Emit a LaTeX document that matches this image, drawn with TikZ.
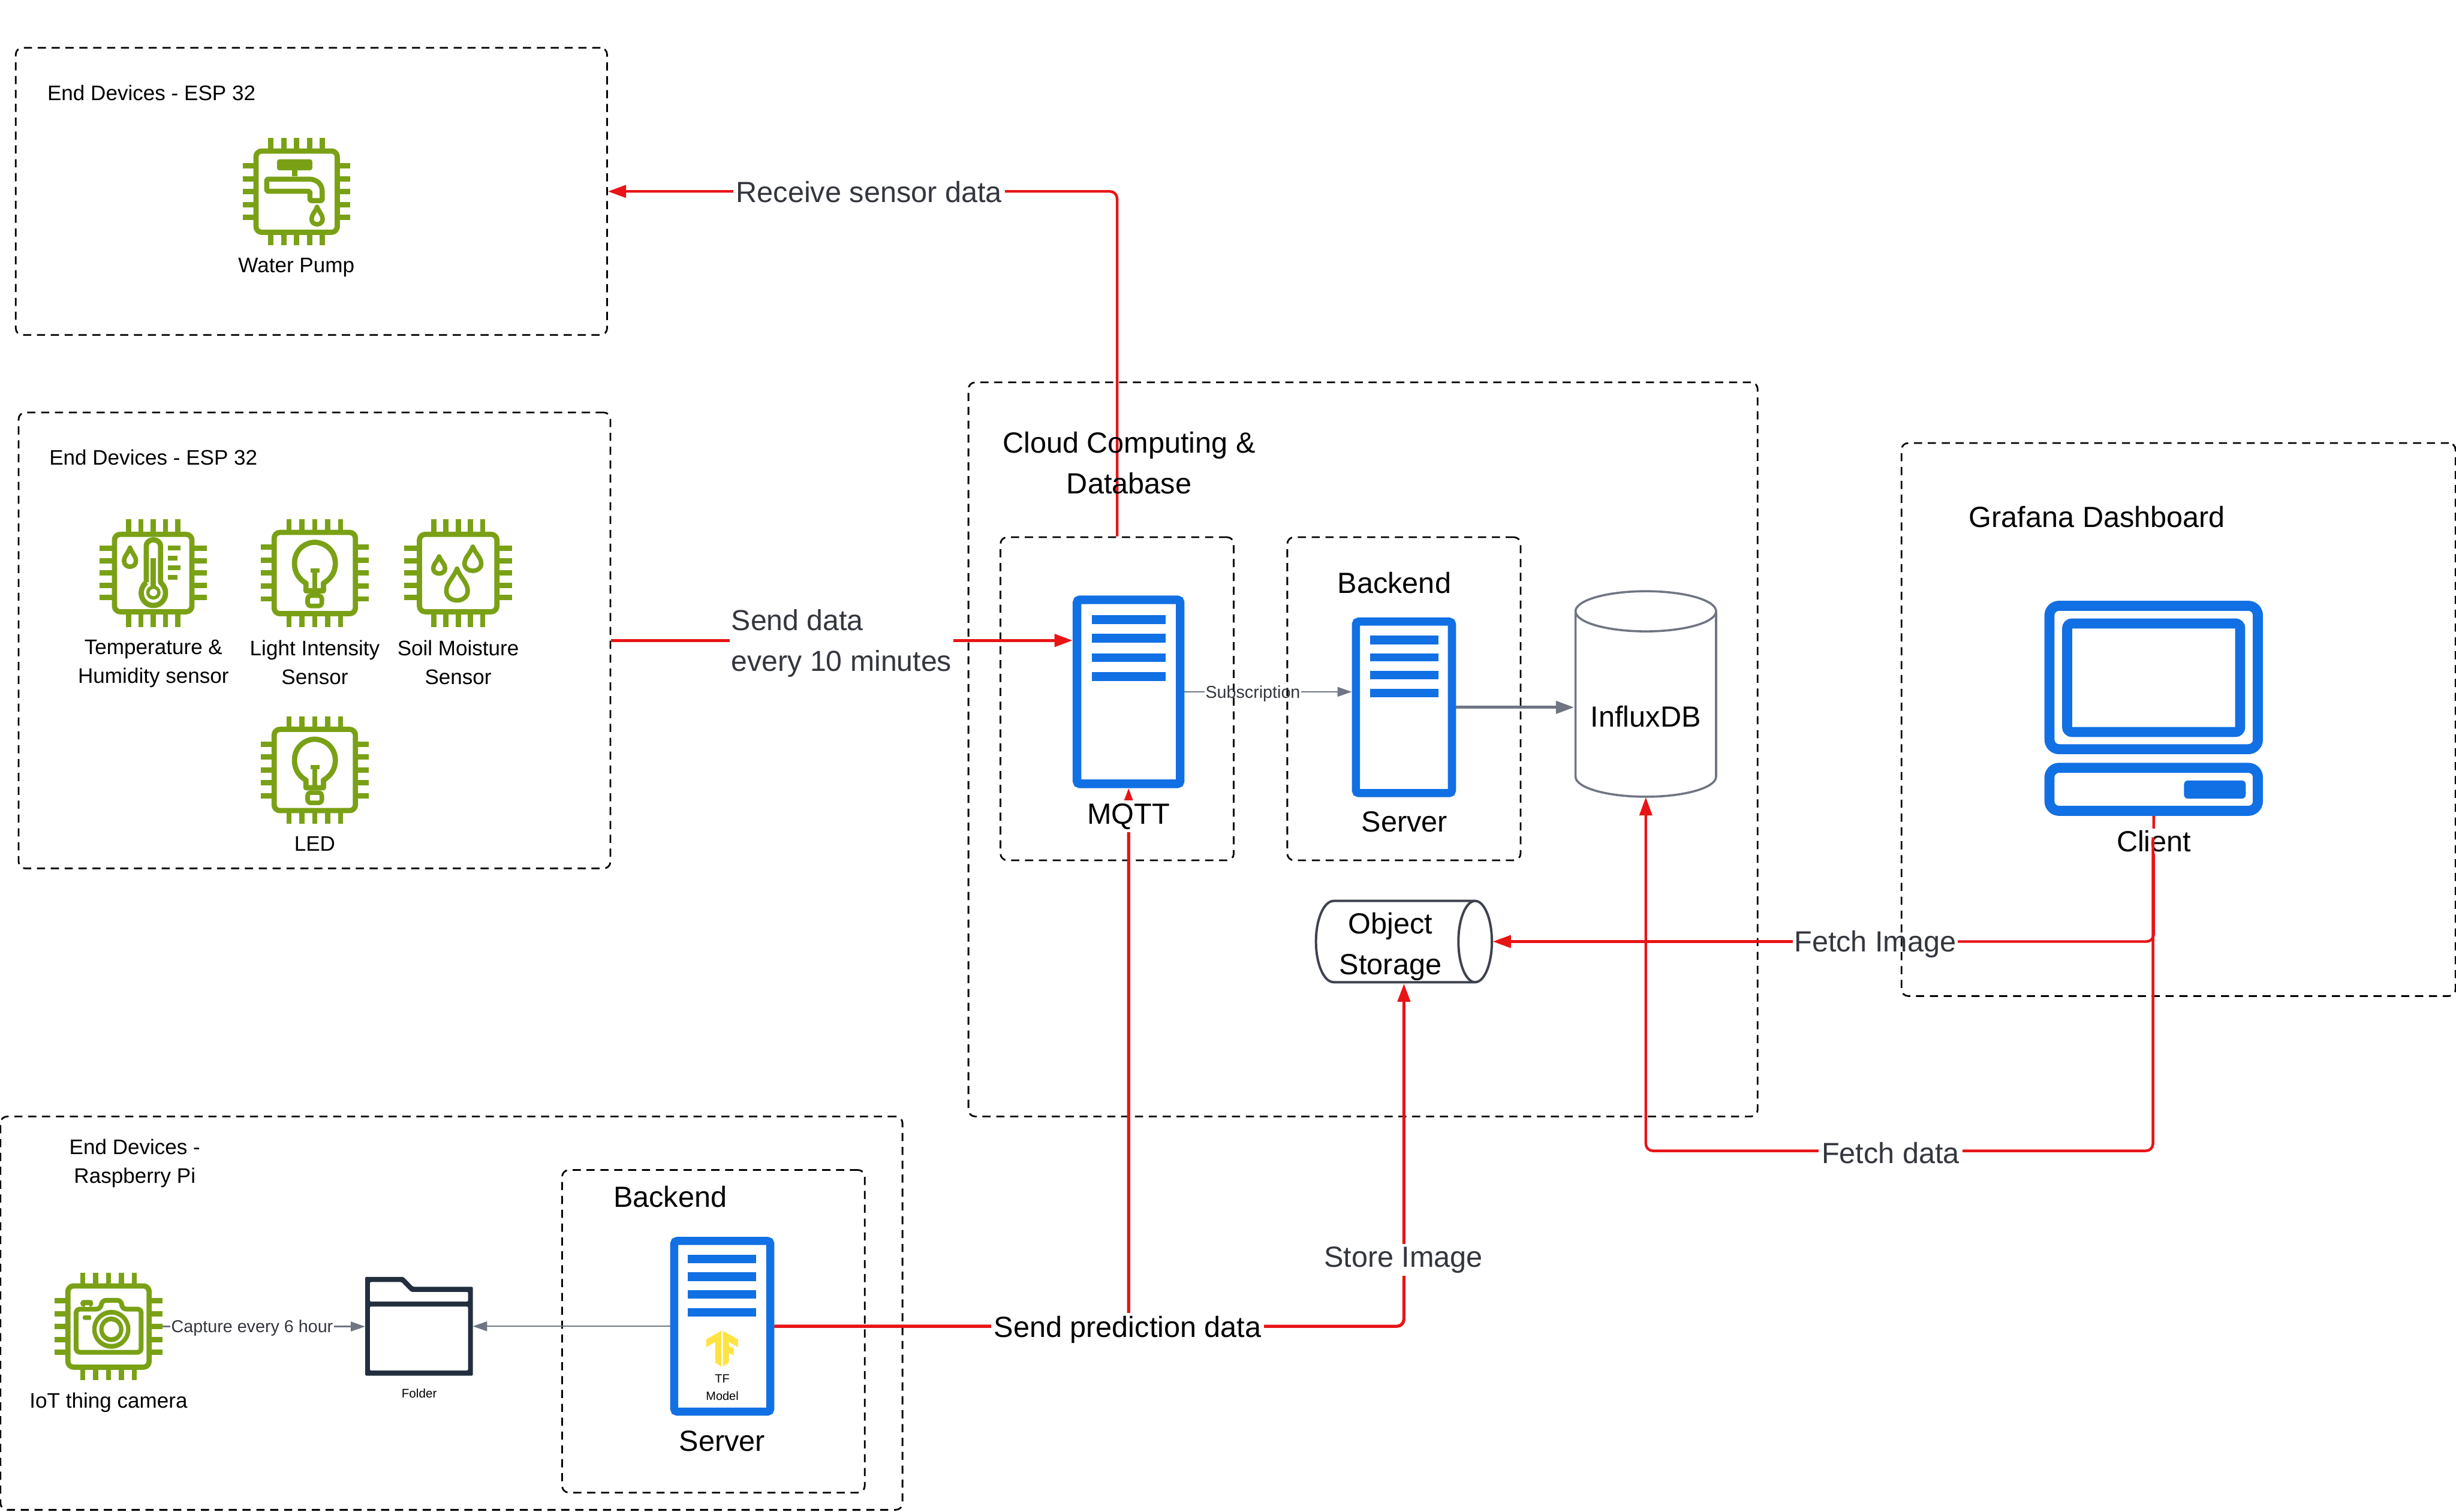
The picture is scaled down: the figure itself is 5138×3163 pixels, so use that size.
\documentclass[tikz,border=0pt]{standalone}
\usepackage{fontspec}
\setmainfont{Liberation Sans}
\usetikzlibrary{arrows.meta}
\pgfdeclarelayer{boxes}\pgfdeclarelayer{conn}\pgfdeclarelayer{lab}\pgfdeclarelayer{over}
\pgfsetlayers{boxes,conn,lab,main,over}
\definecolor{chipg}{HTML}{7AA116}
\definecolor{srvb}{HTML}{1170E4}
\definecolor{redl}{HTML}{E81416}
\definecolor{gryl}{HTML}{6F7582}
\definecolor{txtg}{HTML}{33363D}
\definecolor{fold}{HTML}{232F3E}
\definecolor{cyld}{HTML}{3F4350}
\definecolor{tfy}{HTML}{FFE343}
\tikzset{
 dbox/.style={draw=black,line width=3.5pt,dash pattern=on 17pt off 12pt,rounded corners=14pt,inner sep=0pt},
 srv/.style={draw=srvb,line width=18pt,rounded corners=6pt,inner sep=0pt},
 ghost/.style={inner sep=0pt,outer sep=0pt},
 small/.style={inner sep=0pt,align=center,font=\fontsize{44}{60}\selectfont,text=black},
 tiny/.style={inner sep=0pt,align=center,font=\fontsize{26}{36}\selectfont,text=black},
 big/.style={inner sep=0pt,align=center,font=\fontsize{61}{85}\selectfont,text=black},
 redarrow/.style={draw=redl,line width=6.5pt,rounded corners=15pt,-{Triangle[length=38pt,width=26pt]}},
 redthin/.style={redarrow,line width=5.5pt},
 redline/.style={draw=redl,line width=5.5pt,rounded corners=15pt},
 grayarrow/.style={draw=gryl,line width=3pt,-{Triangle[length=30pt,width=20pt]}},
 grayline/.style={draw=gryl,line width=3pt},
 grayheavy/.style={draw=gryl,line width=6pt,-{Triangle[length=38pt,width=26pt]}},
 redlab/.style={big,fill=white,inner sep=6pt,text=txtg},
 graylab/.style={inner sep=2pt,font=\fontsize{36}{44}\selectfont,text=txtg},
 chipline/.style={draw=chipg,line width=11pt,line join=round},
 bar/.style={fill=srvb,draw=none},
}
\newcommand{\dbx}[5]{\node[dbox,minimum width={(#4-#2)*1pt},minimum height={(#5-#3)*1pt}] (#1) at ({(#2+#4)/2},{(#3+#5)/2}) {};}
\newcommand{\chip}[4]{%
 \begin{scope}[shift={(#1,#2)}]
  \draw[chipline,rounded corners=12pt] (-#3,-#3) rectangle (#3,#3);
  \foreach \k in {-2,-1,0,1,2}{
   \draw[chipg,line width=11pt] (\k*#4,-#3) -- (\k*#4,-112.5);
   \draw[chipg,line width=11pt] (\k*#4,#3) -- (\k*#4,112.5);
   \draw[chipg,line width=11pt] (-#3,\k*#4) -- (-112.5,\k*#4);
   \draw[chipg,line width=11pt] (#3,\k*#4) -- (112.5,\k*#4);
  }
 \end{scope}}
% drop: cx, top, bottom, half width (in the coordinates of the scope)
\newcommand{\drop}[4]{%
 \draw[chipline,line width=9.5pt] (#1,#2) .. controls ({#1+0.35*#4},{#2+0.3*(#3-#2)}) and ({#1+#4},{#2+0.45*(#3-#2)}) .. ({#1+#4},{#2+0.7*(#3-#2)})
  .. controls ({#1+#4},{#2+0.9*(#3-#2)}) and ({#1+0.5*#4},#3) .. (#1,#3)
  .. controls ({#1-0.5*#4},#3) and ({#1-#4},{#2+0.9*(#3-#2)}) .. ({#1-#4},{#2+0.7*(#3-#2)})
  .. controls ({#1-#4},{#2+0.45*(#3-#2)}) and ({#1-0.35*#4},{#2+0.3*(#3-#2)}) .. cycle;}
\newcommand{\bulb}[1]{%
 \begin{scope}[shift={(0,#1)},x=0.8292pt,y=-0.5102pt]
  \draw[chipline] (772,432) .. controls (755,415) and (743,390) .. (743,350) .. controls (743,295) and (770,264) .. (794,264) .. controls (818,264) and (846,295) .. (846,350) .. controls (846,390) and (833,415) .. (816,432) -- (816,463) -- (772,463) -- cycle;
  \fill[chipg] (783,370) rectangle (806,388);
  \fill[chipg] (788,388) rectangle (800,463);
  \draw[chipline,line width=9.5pt,rounded corners=6pt] (776,483) rectangle (812,525);
 \end{scope}}
\begin{document}
\begin{tikzpicture}[x=1pt,y=-1pt]
\useasboundingbox (0,0) rectangle (5138,3163);
% containers
\begin{pgfonlayer}{boxes}
\dbx{box1}{33}{100}{1270}{701}
\dbx{box2}{39}{863}{1277}{1817}
\dbx{cloud}{2026}{800}{3677}{2336}
\dbx{mqttbox}{2093}{1124}{2581}{1800}
\dbx{backbox}{2693}{1124}{3181}{1800}
\dbx{graf}{3978}{927}{5137}{2084}
\dbx{box3}{1}{2336}{1888}{3159}
\dbx{back3}{1176}{2448}{1809}{3123}
\end{pgfonlayer}
% servers
\node[srv,minimum width=216pt,minimum height=385pt] (mqtt) at (2361,1447.5) {};
\node[srv,line width=17pt,minimum width=201pt,minimum height=359pt] (bserver) at (2937,1480) {};
\node[srv,line width=17pt,minimum width=201pt,minimum height=357pt] (server3) at (1511,2775) {};
\foreach \a/\b in {1287/1306,1326/1345,1367/1385,1406/1425} \fill[bar] (2284,\a) rectangle (2438,\b);
\foreach \a/\b in {1330/1348,1367/1384,1404/1421,1441/1459} \fill[bar] (2866,\a) rectangle (3009,\b);
\foreach \a/\b in {2626/2643,2662/2680,2700/2717,2737/2754} \fill[bar] (1439,\a) rectangle (1582,\b);
% TF logo
\begin{scope}[shift={(1100,2400)},x=0.5102pt,y=-0.4847pt]
 \fill[tfy] (802,793) -- (739,830) -- (739,864) -- (777,842) -- (777,930) -- (802,948) -- cycle;
 \fill[tfy] (808,793) -- (870,830) -- (870,864) -- (833,842) -- (833,858) -- (852,870) -- (852,900) -- (833,888) -- (833,930) -- (808,948) -- cycle;
\end{scope}
\node[inner sep=0pt,align=center,font=\fontsize{25}{36}\selectfont] (tfmodel) at (1511,2903) {TF\\Model};
% InfluxDB
\node[ghost,minimum width=300pt,minimum height=433pt] (influx) at (3443,1451.5) {};
\draw[draw=gryl,line width=4.5pt] (3296,1279) -- (3296,1625) arc[start angle=180,end angle=0,x radius=147,y radius=42] -- (3590,1279);
\draw[draw=gryl,line width=4.5pt] (3443,1279) ellipse[x radius=147,y radius=42];
\node[big] (influxtxt) at (3443,1499) {InfluxDB};
% Object storage
\node[ghost,minimum width=372pt,minimum height=176pt] (ostore) at (2937,1970) {};
\draw[draw=cyld,line width=5pt] (3086,1885) -- (2790,1885) arc[start angle=270,end angle=90,x radius=37,y radius=85] -- (3086,2055);
\draw[draw=cyld,line width=5pt] (3086,1970) ellipse[x radius=35,y radius=85];
\node[big] (ostxt) at (2909,1981) {Object\\Storage};
% Client
\node[ghost,minimum width=457pt,minimum height=450pt] (client) at (4505.5,1482) {};
\draw[srvb,line width=21pt,rounded corners=20pt] (4287.5,1267.5) rectangle (4723.5,1567.5);
\draw[srvb,line width=21pt,rounded corners=10pt] (4324.5,1304.5) rectangle (4686.5,1531.5);
\draw[srvb,line width=21pt,rounded corners=20pt] (4287.5,1606.5) rectangle (4723.5,1696.5);
\fill[srvb,rounded corners=8pt] (4569,1633) rectangle (4698,1671);
% Water pump chip
\chip{620.5}{401}{85}{27}
\begin{scope}[shift={(0,60)},x=0.8292pt,y=-0.4464pt]
 \fill[chipg,rounded corners=5pt] (699,612) rectangle (788,664);
 \fill[chipg] (737,664) rectangle (750,692);
 \draw[chipline,line width=10.5pt,rounded corners=3pt] (673,705) -- (775,705) .. controls (800,705) and (813,730) .. (813,770) -- (813,806) -- (782,806) -- (782,762) -- (673,762) -- cycle;
 \drop{800}{835}{917}{14}
\end{scope}
% Temperature chip
\chip{320.5}{1199}{81}{25.7}
\begin{scope}[shift={(0,1000)},x=0.8292pt,y=-0.5102pt]
 \drop{328}{286}{364}{15}
 \draw[chipline] (369,428) -- (369,280) .. controls (369,245) and (405,245) .. (405,280) -- (405,428) .. controls (430,465) and (415,523) .. (387,523) .. controls (359,523) and (344,465) .. (369,428);
 \fill[chipg] (380,328) rectangle (393,445);
 \draw[chipg,line width=7pt] (387,470) ellipse[x radius=14,y radius=22];
 \foreach \a/\b in {278/455,318/448,358/455,398/448} \fill[chipg] (423,\a) rectangle (\b,\a+20);
\end{scope}
% Light intensity chip
\chip{658.5}{1199}{85}{27}
\bulb{1000}
% Soil chip
\chip{958.5}{1199}{81}{25.7}
\begin{scope}[shift={(0,1000)},x=0.8292pt,y=-0.5102pt]
 \drop{1108}{322}{392}{15}
 \drop{1193}{282}{381}{21}
 \drop{1153}{372}{502}{27}
\end{scope}
% LED chip
\chip{658.5}{1611}{85}{27}
\bulb{1412}
% Camera chip
\chip{227}{2775.5}{85}{27}
\begin{scope}[shift={(0,2550)},x=0.7015pt,y=-0.3333pt]
 \draw[chipline,line width=10pt,rounded corners=7pt] (227,838) -- (227,567) -- (298,567) -- (306,512) -- (360,512) -- (366,567) -- (421,567) -- (421,838) -- cycle;
 \fill[chipg,rounded corners=6pt] (240,510) rectangle (278,552);
 \fill[white] (254,543) rectangle (266,552);
 \fill[chipg,rounded corners=3pt] (247,607) rectangle (272,635);
 \fill[chipg] (332,694) ellipse[x radius=57,y radius=122];
 \fill[white] (332,694) ellipse[x radius=44,y radius=92];
 \fill[chipg] (332,694) ellipse[x radius=36,y radius=80];
 \fill[white] (332,694) ellipse[x radius=23,y radius=50];
\end{scope}
\node[ghost,minimum size=225pt] (camera) at (227,2775.5) {};
% Folder
\node[ghost,minimum width=225pt,minimum height=206pt] (folder) at (876.5,2775) {};
\begin{scope}[shift={(0,2550)},x=0.7015pt,y=-0.3333pt]
 \fill[fold,even odd rule,rounded corners=2pt] (1089,365) -- (1203,365) -- (1232,427) -- (1410,427) -- (1410,985) -- (1089,985) -- cycle
  (1103,397) -- (1197,397) -- (1226,459) -- (1396,459) -- (1396,520) -- (1103,520) -- cycle
  (1103,551) -- (1396,551) -- (1396,953) -- (1103,953) -- cycle;
\end{scope}
% plain labels
\node[small,anchor=west] (t1) at (99,195) {End Devices - ESP 32};
\node[small] (wp) at (620,560) {Water Pump};
\node[small,anchor=west] (t2) at (103,957) {End Devices - ESP 32};
\node[small] (l1) at (321,1389) {Temperature \&\\Humidity sensor};
\node[small] (l2) at (658.5,1386) {Light Intensity\\Sensor};
\node[small] (l3) at (958.5,1386) {Soil Moisture\\Sensor};
\node[small] (l4) at (658.5,1765) {LED};
\node[small] (t3) at (282,2434) {End Devices -\\Raspberry Pi};
\node[small] (l5) at (227,2935) {IoT thing camera};
\node[tiny] (l6) at (877,2915) {Folder};
\node[big] (t4) at (2362,969) {Cloud Computing \&\\Database};
\node[big,anchor=west] (t5) at (4119,1081) {Grafana Dashboard};
\node[big] (b1) at (2917,1219) {Backend};
\node[big] (s1) at (2938,1720) {Server};
\node[big] (b2) at (1402,2504) {Backend};
\node[big] (s2) at (1511,3015) {Server};
% labels of connectors (those crossed by a dashed edge carry no white ground)
\begin{pgfonlayer}{lab}
\node[redlab] (lrecv) at (1818,401) {Receive sensor data};
\node[redlab,align=left,anchor=west,font=\fontsize{60.5}{85}\selectfont,inner sep=3pt] (lsend) at (1527,1346) {Send data\\every 10 minutes};
\node[graylab] (lsub) at (2621,1451) {Subscription};
\node[graylab,fill=white] (lcap) at (527.5,2779) {Capture every 6 hour};
\node[big,fill=white,inner sep=6pt] (lmqtt) at (2361,1708) {MQTT};
\node[big,fill=none,text=txtg,inner sep=3pt] (lfi) at (3923,1976) {Fetch Image};
\node[redlab] (lsi) at (2936,2636) {Store Image};
\node[redlab,text=black] (lsp) at (2359,2782) {Send prediction data};
\node[big,fill=white,inner sep=4pt] (lclient) at (4506,1760) {Client};
\end{pgfonlayer}
% connectors
\begin{pgfonlayer}{conn}
\draw[redthin] (mqttbox.north) |- (box1.east);
\draw[redarrow] (box2.east) -- (box2.east -| mqtt.west);
\draw[grayline] (mqtt.east) -- (lsub.west |- mqtt.east);
\draw[grayarrow] (lsub.east |- mqtt.east) -- (mqtt.east -| bserver.west);
\draw[grayheavy] (bserver.east) -- (bserver.east -| influx.west);
\draw[redarrow] (server3.east) -| (mqtt.south);
\draw[redarrow] (server3.east) -| (ostore.south);
\draw[redline] (client.south) |- (lfi.east |- ostore.east);
\draw[redthin] (lfi.west |- ostore.east) -- (ostore.east);
\draw[grayarrow] (camera.east) -- (camera.east -| folder.west);
\draw[grayarrow] (server3.west) -- (server3.west -| folder.east);
\end{pgfonlayer}
\begin{pgfonlayer}{over}
\coordinate (clow) at (4504,1752);
\coordinate (fdy) at (0,2408);
\draw[redthin] (clow) |- (fdy -| influx.south) -- (influx.south);
\node[redlab] (lfd) at (3955,2412) {Fetch data};
\end{pgfonlayer}
\end{tikzpicture}
\end{document}
